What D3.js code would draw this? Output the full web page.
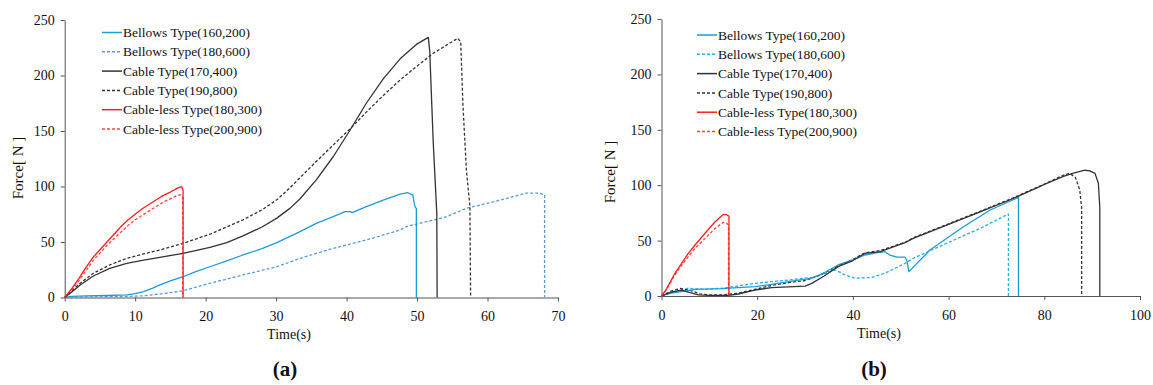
<!DOCTYPE html>
<html>
<head>
<meta charset="utf-8">
<script src="https://cdn.jsdelivr.net/npm/d3@7"></script>
<style>
  html, body { margin: 0; padding: 0; background: #fff; }
  svg { display: block; }
  svg text { font-family: "Liberation Serif", "Times New Roman", Tinos, serif; fill: #111; }
</style>
</head>
<body>
<svg id="chart" width="1153" height="385"></svg>
<script>
// ---------- DATA ----------
const seriesNames = [
  "Bellows Type(160,200)", "Bellows Type(180,600)",
  "Cable Type(170,400)", "Cable Type(190,800)",
  "Cable-less Type(180,300)", "Cable-less Type(200,900)"
];
const xTicksA = [0, 10, 20, 30, 40, 50, 60, 70];
const xTicksB = [0, 20, 40, 60, 80, 100];
const yTicks = [0, 50, 100, 150, 200, 250];
const panelLabels = ["(a)", "(b)"];
const xTitle = "Time(s)";
const yTitle = "Force[ N ]";

// Panel (a): [time s, force N]
const aBellows160 = [[0,0],[1,1],[3,1.5],[6,1.8],[8.8,2.3],[10,3.5],[11.2,5.2],[12.5,8.5],[13.5,11.3],[15,15],[16.8,18.7],[18.5,23],[20.6,27.7],[23,33],[25.3,38.3],[28,44],[30.1,49.5],[33.4,59.3],[35.7,66.8],[38.1,72.8],[39.8,77.3],[40.5,77.3],[40.8,76.4],[42.8,81.8],[45.2,87.8],[47.6,93.2],[48.7,94.4],[49.4,92.3],[49.6,85],[49.7,81.8],[49.9,80],[49.9,0]];
const aBellows180 = [[0,0],[3,0.5],[8,0.8],[11.2,1.5],[14,3.5],[16.8,6.1],[20.6,12.8],[25.3,20.3],[30.1,27.7],[33.4,35.3],[38.1,44.3],[42.8,51.8],[47.6,60.8],[48.5,64],[50.4,66.8],[54.2,72.8],[57,80.4],[58.9,83.3],[61.7,87.5],[63.6,90.8],[65.5,94],[67.4,94],[68.1,92.5],[68.1,0]];
const aCable170 = [[0,0],[1,5],[2.2,11.3],[4.06,19.4],[6.4,26.3],[8.8,30.8],[11,33.5],[13.5,36.2],[16.8,39.8],[20.6,45.2],[23,49.5],[25.3,55.5],[28,63.5],[30.1,71.5],[32,80.5],[33.4,89],[35.7,106],[38.1,126.8],[40.5,150.9],[42.8,175],[45.2,197],[47.6,215],[49.9,228],[51.6,234.4],[51.8,222],[52.3,139],[52.8,76],[52.85,0]];
const aCable190 = [[0,0],[1,6],[2.2,12.8],[4.06,21.8],[6.4,29.3],[8.8,35.3],[11,39],[13.5,42.8],[16.8,48.8],[20.6,57],[25.3,70],[28,79],[30.1,88],[32,99],[33.4,108],[35.7,122.5],[38.1,137.4],[40.5,152],[42.8,167],[45.2,182],[47.6,196],[49.9,208],[52.3,220],[54.6,229],[55.8,233.5],[56.2,230],[56.5,175],[57,115],[57.5,82],[57.6,0]];
const aCableless180 = [[0,0],[1,8],[2,17],[3,27],[4,36],[5,43],[6,50],[7,57],[8,64],[9,70],[10,75],[11,80],[12,84],[13,88],[14,92],[15,95],[16,98.5],[16.6,99.8],[16.8,97],[16.8,0]];
const aCableless200 = [[0,0],[1,7],[2,15],[3,24],[4,33],[5,40],[6,47],[7,53],[8,59],[9,65],[10,70],[11,74],[12,78],[13,82],[14,86],[15,89],[16,92],[16.5,92.5],[16.75,90],[16.75,0]];

// Panel (b)
const bBellows160 = [[0,0],[2,2.5],[4.2,4],[7,6],[12.6,6.6],[16,7.5],[19.5,8.4],[23,10.5],[26.5,12.9],[29,14.5],[31.4,16],[34,21],[36.9,28],[40,32.5],[42.5,37],[45.7,39.5],[46.7,40],[47.7,37],[49.2,35],[50.9,35],[51.3,32],[51.7,22],[56.1,41.5],[63.1,62.5],[68.7,77.6],[74.6,89],[74.6,0]];
const bBellows180 = [[0,0],[2,3],[4,5],[5.6,7],[9.1,6],[12.6,7],[16,9],[19.5,11.4],[23,13],[26.5,14.4],[31.4,16.8],[34,20],[36.3,23.5],[37.5,21],[38.3,19],[40.4,16],[43.9,16.8],[45.7,19],[47.4,22],[50.9,29.5],[52.6,34],[59.6,47.6],[66.6,61.1],[72.1,73.1],[72.5,74],[72.5,0]];
const bCable170 = [[0,0],[2,3.5],[4.2,5.4],[6,3],[7.7,1],[10,0.5],[14,0.5],[16,1.8],[19.5,5.4],[23,7.5],[26.5,8.2],[30,9],[31.4,11.4],[34,18],[36.9,26.5],[40,32],[42.5,38.5],[45.7,40],[50.9,48.1],[52.6,52],[59.6,64],[66.6,76],[73.5,88],[80.5,101.7],[84,108],[86.1,111],[88.5,113.5],[89.5,113],[90.6,110.7],[91.3,101.7],[91.6,80],[91.6,0]];
const bCable190 = [[0,0],[2,4.5],[4,6.8],[6,5],[8,2],[10,1],[13,1],[16,2.5],[19.5,6],[23,9.5],[26.5,12],[30,14],[33,18.5],[36.9,27],[40,33],[42.5,39],[45.7,41],[50.9,48.5],[52.6,52.5],[59.6,64.5],[66.6,76.5],[73.5,88.5],[80.5,102],[84,109],[85.3,110.7],[86.5,107],[87.4,95.7],[87.8,80],[87.8,0]];
const bCableless180 = [[0,0],[1,6],[2.8,20.5],[4,28],[5.6,38.5],[7,46],[9.1,56.6],[11.2,67],[12.9,73.5],[13.5,73.5],[13.9,72.5],[14.1,72],[14.1,0]];
const bCableless200 = [[0,0],[1,5.5],[2.8,19],[4,26.5],[5.6,35.5],[7,43],[9.1,52],[11.2,61],[12.9,66.5],[13.6,65.6],[14,64],[14,0]];

// ---------- DRAW ----------
const FONT = "'Liberation Serif', 'Times New Roman', Tinos, serif";
const svg = d3.select("#chart");

const panels = [
  {
    data: [aBellows160, aBellows180, aCable170, aCable190, aCableless180, aCableless200],
    colors: ["#1a9cd8", "#5b9bd5", "#333333", "#333333", "#ff1e1e", "#ff4545"],
    xDomain: [0, 70], xRange: [64.7, 558], yRange: [297.5, 20], xTicks: xTicksA,
    legendX: 102, legendY: 32.5, legendStep: 19.3,
    xTitlePos: [289, 339], yTitlePos: [18, 168], labelPos: [285, 376], label: panelLabels[0]
  },
  {
    data: [bBellows160, bBellows180, bCable170, bCable190, bCableless180, bCableless200],
    colors: ["#1a9cd8", "#1fb0ee", "#333333", "#333333", "#ff1e1e", "#ff4545"],
    xDomain: [0, 100], xRange: [661.5, 1140], yRange: [296, 19], xTicks: xTicksB,
    legendX: 697, legendY: 35, legendStep: 19.3,
    xTitlePos: [879, 338], yTitlePos: [610, 172], labelPos: [874, 376], label: panelLabels[1]
  }
];
const dashed = [false, true, false, true, false, true];

panels.forEach(p => {
  const x = d3.scaleLinear().domain(p.xDomain).range(p.xRange);
  const y = d3.scaleLinear().domain([0, 250]).range(p.yRange);
  const g = svg.append("g").attr("font-family", FONT);

  const xAxis = g.append("g")
    .attr("transform", `translate(0,${p.yRange[0]})`)
    .call(d3.axisBottom(x).tickValues(p.xTicks).tickSize(4).tickSizeOuter(0).tickPadding(10));
  const yAxis = g.append("g")
    .attr("transform", `translate(${p.xRange[0]},0)`)
    .call(d3.axisLeft(y).tickValues(yTicks).tickSize(4).tickSizeOuter(0).tickPadding(6));
  [xAxis, yAxis].forEach(a => {
    a.attr("font-family", FONT).attr("font-size", 14);
    a.selectAll("path, line").attr("stroke", "#555").attr("stroke-width", 1);
    a.selectAll("text").style("font-family", FONT).style("font-size", "14px").attr("fill", "#111");
  });

  const line = d3.line().x(d => x(d[0])).y(d => y(d[1]));
  const order = [1, 3, 5, 0, 2, 4];
  order.forEach(i => {
    g.append("path")
      .datum(p.data[i])
      .attr("d", line)
      .attr("fill", "none")
      .attr("stroke", p.colors[i])
      .attr("stroke-width", 1.3)
      .attr("stroke-linejoin", "round")
      .attr("stroke-dasharray", dashed[i] ? "3,2" : null);
  });

  seriesNames.forEach((name, i) => {
    const ly = p.legendY + i * p.legendStep;
    g.append("line")
      .attr("x1", p.legendX).attr("x2", p.legendX + 20)
      .attr("y1", ly).attr("y2", ly)
      .attr("stroke", p.colors[i]).attr("stroke-width", 1.5)
      .attr("stroke-dasharray", dashed[i] ? "3,2" : null);
    g.append("text")
      .attr("x", p.legendX + 21).attr("y", ly + 4.6)
      .style("font-family", FONT).style("font-size", "13.5px")
      .text(name);
  });

  g.append("text")
    .attr("x", p.xTitlePos[0]).attr("y", p.xTitlePos[1])
    .attr("text-anchor", "middle").style("font-family", FONT).style("font-size", "14px")
    .text(xTitle);
  g.append("text")
    .attr("transform", `translate(${p.yTitlePos[0]},${p.yTitlePos[1]}) rotate(-90)`)
    .attr("text-anchor", "middle").attr("dy", "0.35em").style("font-family", FONT).style("font-size", "15px")
    .text(yTitle);
  g.append("text")
    .attr("x", p.labelPos[0]).attr("y", p.labelPos[1])
    .attr("text-anchor", "middle").style("font-family", FONT).style("font-size", "21px").style("font-weight", "bold")
    .text(p.label);
});
</script>
</body>
</html>
